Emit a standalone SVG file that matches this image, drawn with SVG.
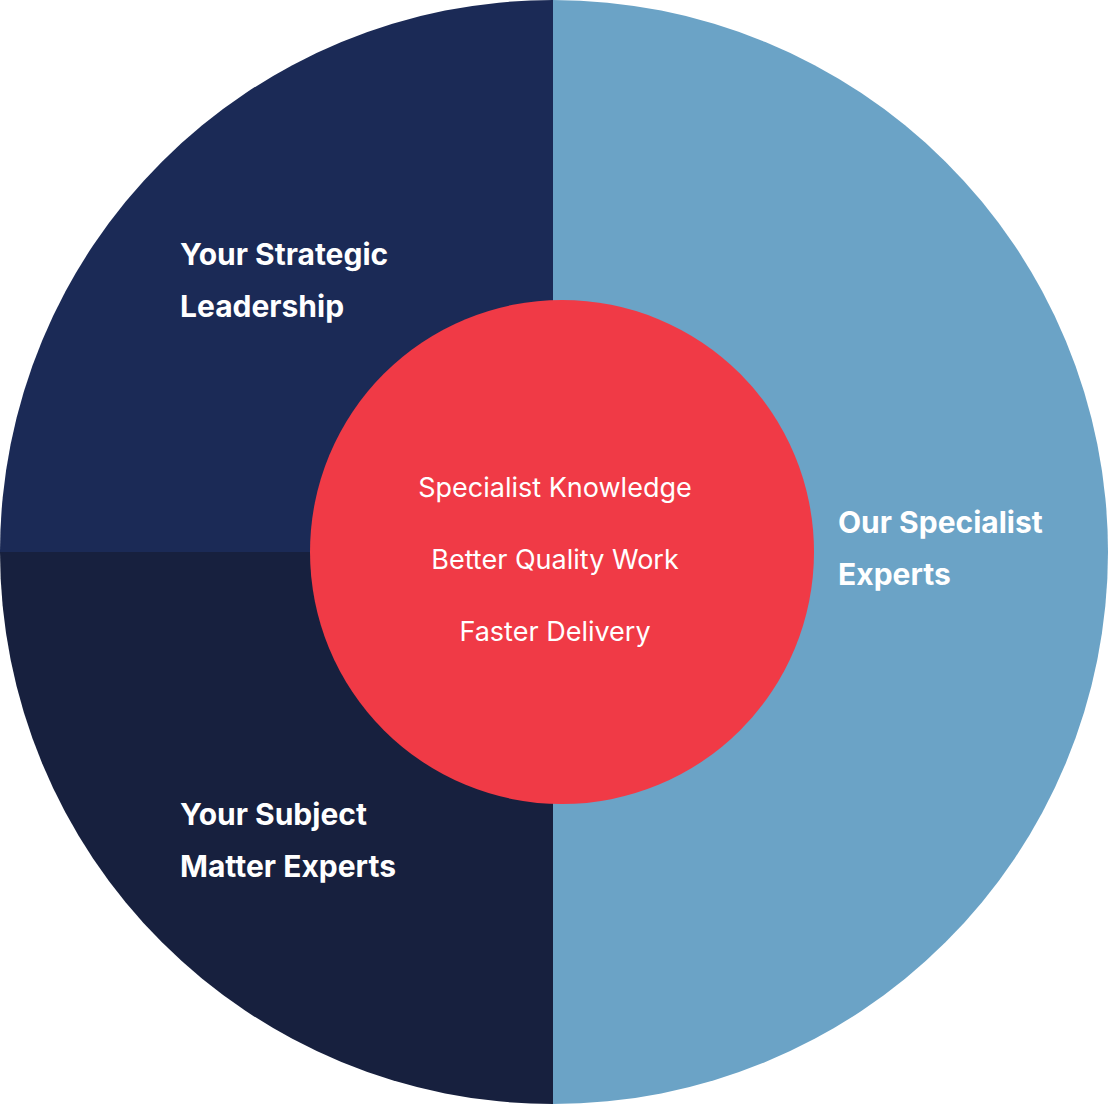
<svg xmlns="http://www.w3.org/2000/svg" width="1111" height="1104" viewBox="0 0 1111 1104">
<style>
.b{font-family:"Inter","Liberation Sans",sans-serif;font-weight:700;font-size:30px;fill:#fff}
.c{font-family:"Inter","Liberation Sans",sans-serif;font-size:27px;fill:#fff;text-anchor:middle}
</style>
<rect width="1111" height="1104" fill="#fff"/>
<g id="our-experts">
<path d="M553,0 A555,552 0 0 1 553,1104 Z" fill="#6BA3C6"/>
<text class="b" x="838" y="533">Our Specialist</text>
<text class="b" x="838" y="585">Experts</text>
</g>
<g id="strategic-leadership">
<path d="M553,552 L0,552 A553,552 0 0 1 553,0 Z" fill="#1B2A56"/>
<text class="b" x="180" y="265">Your Strategic</text>
<text class="b" x="180" y="317">Leadership</text>
</g>
<g id="subject-matter-experts">
<path d="M553,552 L0,552 A553,552 0 0 0 553,1104 Z" fill="#17203E"/>
<text class="b" x="180" y="825">Your Subject</text>
<text class="b" x="180" y="877">Matter Experts</text>
</g>
<g id="core">
<circle cx="562" cy="552" r="252" fill="#F03A46"/>
<text class="c" x="555" y="497">Specialist Knowledge</text>
<text class="c" x="555" y="569">Better Quality Work</text>
<text class="c" x="555" y="641">Faster Delivery</text>
</g>
<g id="connectors"/>
</svg>
